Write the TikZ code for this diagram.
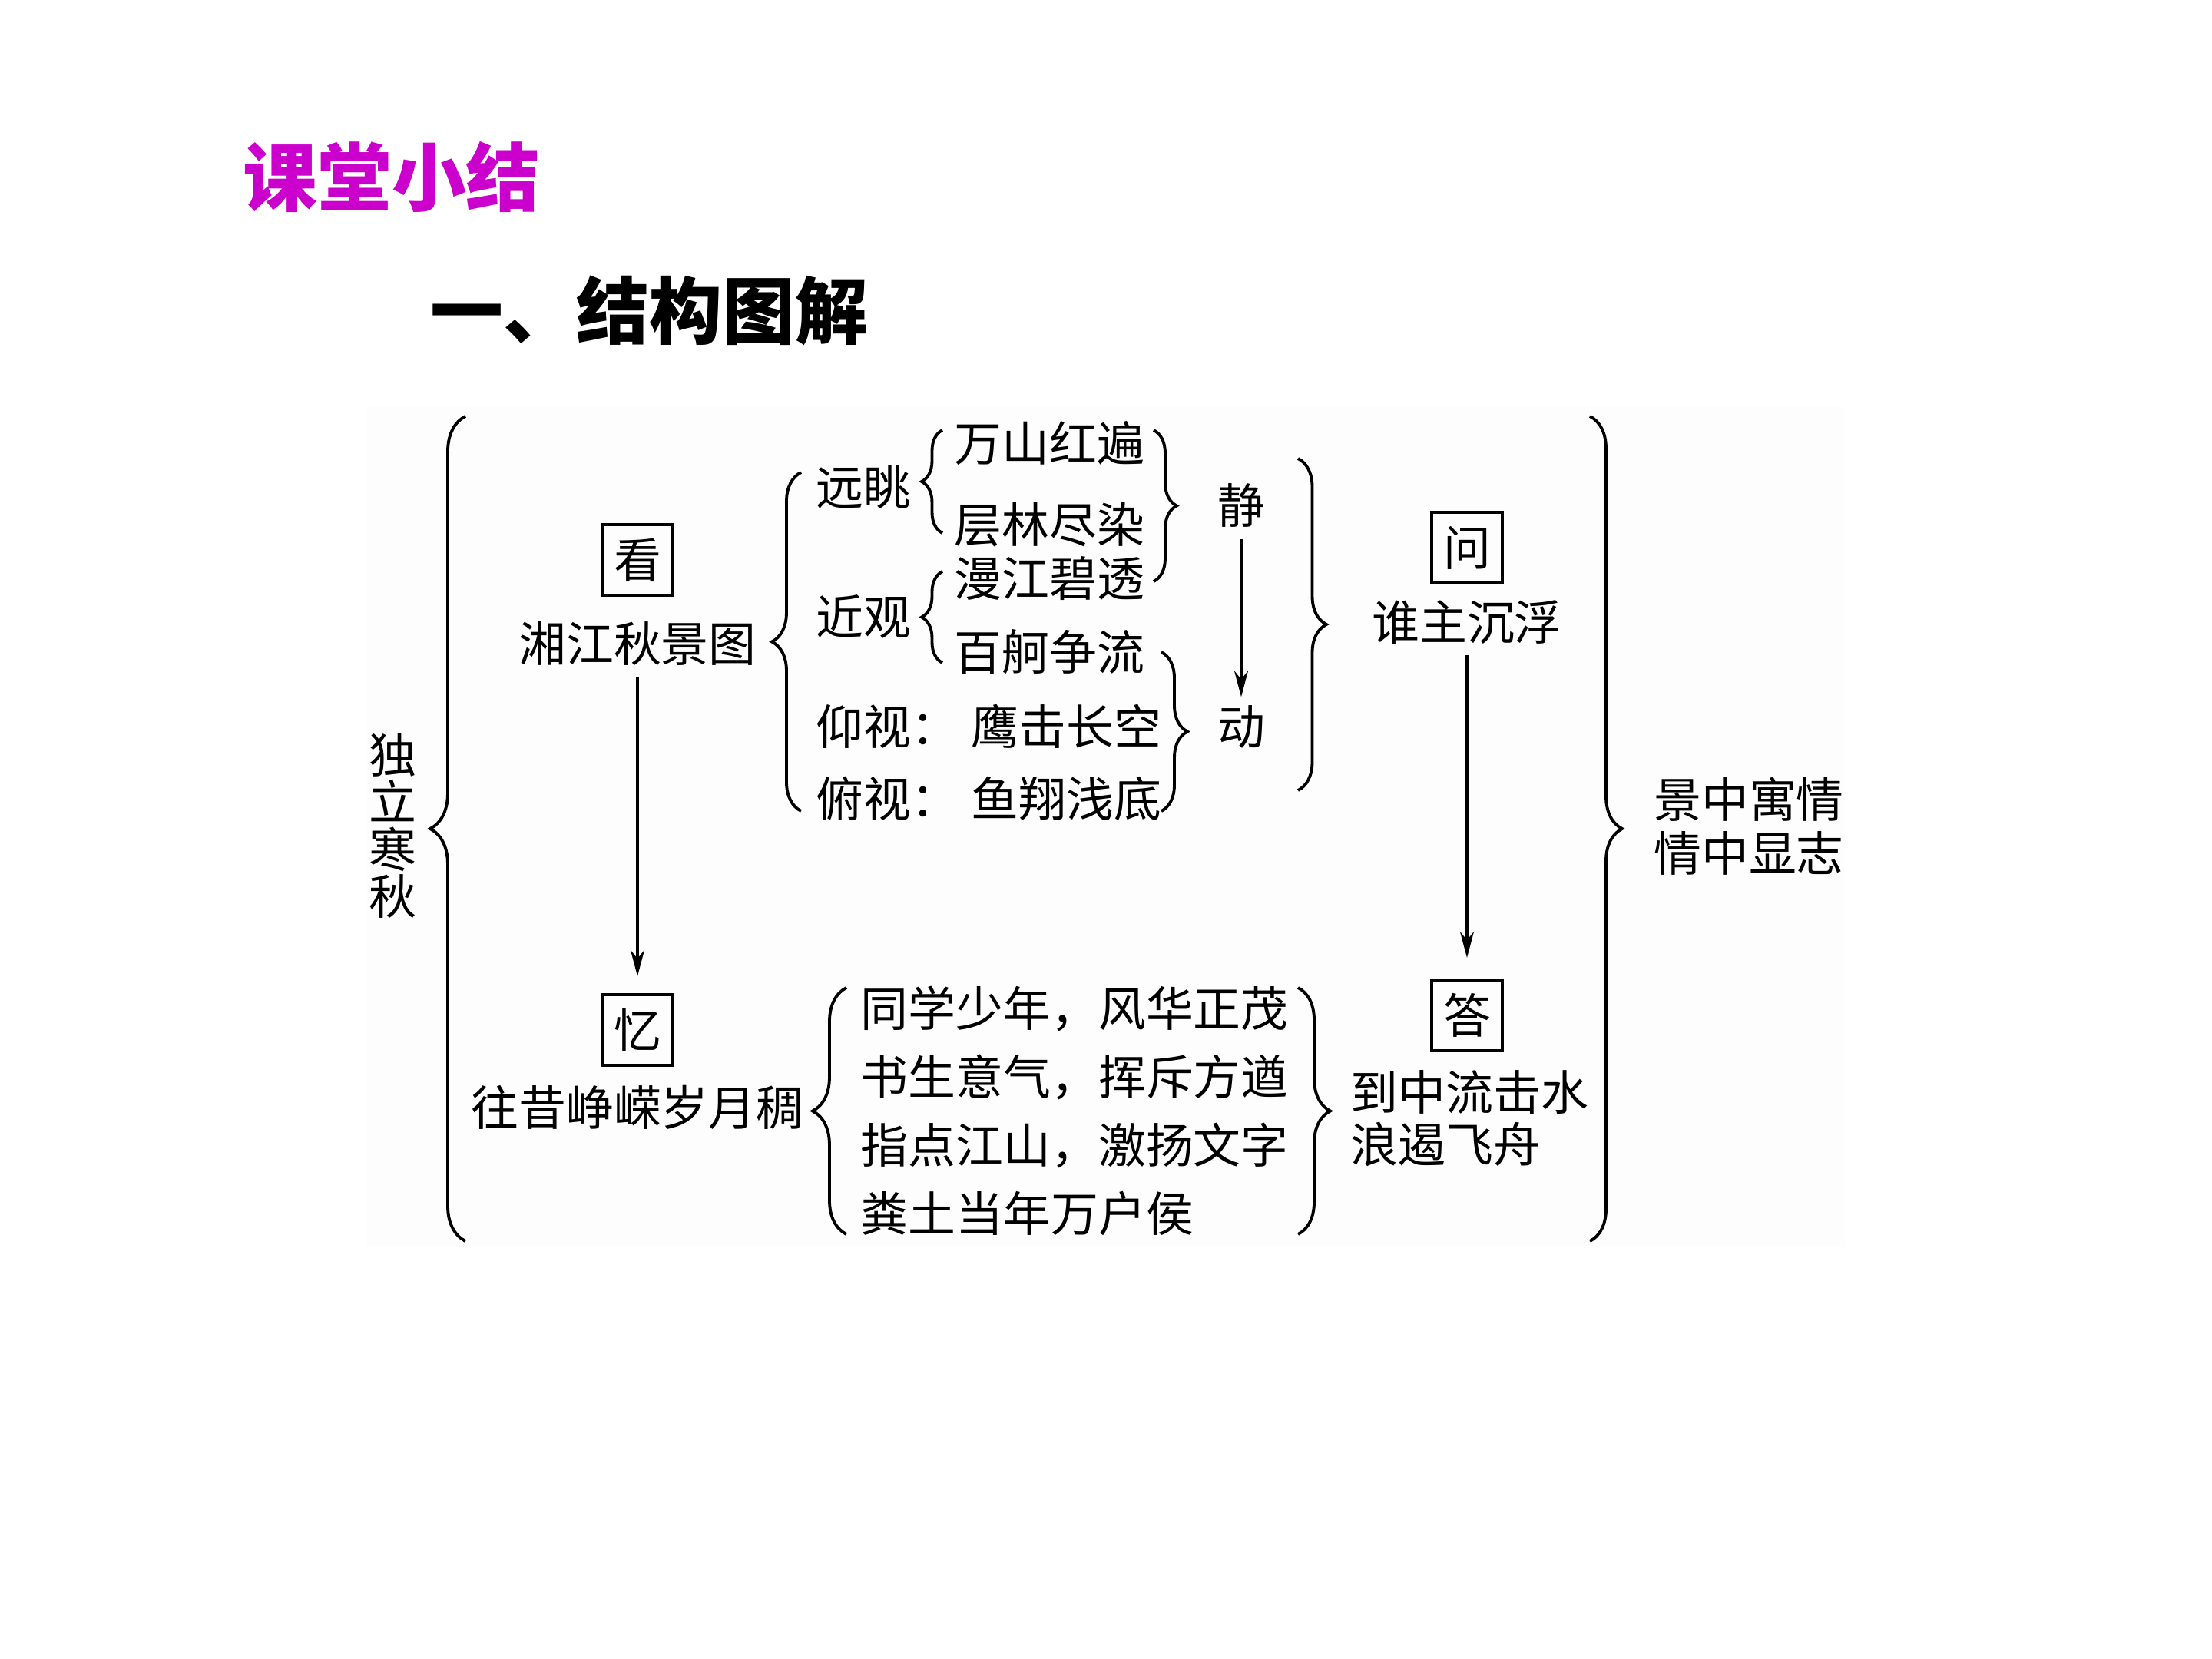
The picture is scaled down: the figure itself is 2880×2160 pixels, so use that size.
\documentclass[tikz,border=0pt]{standalone}
\usepackage{fontspec}
\setmainfont{Noto Sans CJK SC}
\usetikzlibrary{arrows.meta,decorations.pathreplacing}
\definecolor{titlemagenta}{RGB}{204,0,204}

\tikzset{
  txt/.style={inner sep=0pt,font=\fontsize{17.6pt}{17.6pt}\selectfont},
  keybox/.style={draw,line width=1.1pt,minimum size=0.92cm,inner sep=0pt,font=\fontsize{17.6pt}{17.6pt}\selectfont},
  arr/.style={line width=1pt,-{Stealth[length=0.34cm,width=0.18cm]}},
  brc/.style={line width=1.1pt,decorate,decoration={brace,amplitude=#1}},
}

\begin{document}
\begin{tikzpicture}[x=0.01cm,y=-0.01cm]
            \useasboundingbox (0,0) rectangle (2880,2160);
            % faint backdrop of the chart
            \fill [black!0.7] (477,530) rectangle (2402,1623);
            % titles
            \node [anchor=west,inner sep=0pt,text=titlemagenta,font=\fontsize{27.5pt}{27.5pt}\selectfont\bfseries] (title) at (316,230) {课堂小结};
            \node [anchor=west,inner sep=0pt,font=\fontsize{27pt}{27pt}\selectfont\bfseries] (heading) at (560,404) {一、结构图解};
            % outer braces
            \node [txt,align=center,font=\fontsize{17.6pt}{17.4pt}\selectfont] (dulihanqiu) at (511,1075) {独\\立\\寒\\秋};
            \coordinate (bigL-top) at (606,542);
            \coordinate (bigL-bot) at (606,1616);
            \draw [brc=0.46cm] (bigL-bot) -- (bigL-top);
            \coordinate (bigR-top) at (2070,542);
            \coordinate (bigR-bot) at (2070,1616);
            \draw [brc=0.42cm] (bigR-top) -- (bigR-bot);
            \node [txt,align=left,font=\fontsize{17.6pt}{20pt}\selectfont] (jingzhong) at (2277,1076) {景中寓情\\情中显志};
            % kan
            \node [keybox] (kan) at (830,729) {看};
            \node [txt] (xiangjiang) at (830,838) {湘江秋景图};
            \coordinate (kan-top) at (1043,615);
            \coordinate (kan-bot) at (1043,1056);
            \draw [brc=0.38cm] (kan-bot) -- (kan-top);
            % yuantiao / jinguan
            \node [txt] (yuantiao) at (1124,634) {远眺};
            \node [txt] (jinguan) at (1124,803) {近观};
            \coordinate (yt-top) at (1227,560);
            \coordinate (yt-bot) at (1227,694);
            \draw [brc=0.27cm] (yt-bot) -- (yt-top);
            \coordinate (jg-top) at (1227,744);
            \coordinate (jg-bot) at (1227,863);
            \draw [brc=0.27cm] (jg-bot) -- (jg-top);
            \node [txt,anchor=west] (wanshan) at (1242,577) {万山红遍};
            \node [txt,anchor=west] (cenglin) at (1242,683) {层林尽染};
            \node [txt,anchor=west] (manjiang) at (1242,753) {漫江碧透};
            \node [txt,anchor=west] (baige) at (1242,849) {百舸争流};
            % yangshi / fushi
            \node [txt,anchor=west] (yangshi) at (1062,946) {仰视：};
            \node [txt,anchor=west] (yingji) at (1264,946) {鹰击长空};
            \node [txt,anchor=west] (fushi) at (1062,1040) {俯视：};
            \node [txt,anchor=west] (yuxiang) at (1264,1040) {鱼翔浅底};
            % jing / dong
            \coordinate (jing-top) at (1502,560);
            \coordinate (jing-bot) at (1502,757);
            \draw [brc=0.3cm] (jing-top) -- (jing-bot);
            \coordinate (dong-top) at (1512,849);
            \coordinate (dong-bot) at (1512,1056);
            \draw [brc=0.34cm] (dong-top) -- (dong-bot);
            \node [txt] (jing) at (1616,658) {静};
            \node [txt] (dong) at (1616,946) {动};
            \draw [arr,shorten <=0.15cm,shorten >=0.1cm] (jing) -- (dong);
            \coordinate (jd-top) at (1690,597);
            \coordinate (jd-bot) at (1690,1029);
            \draw [brc=0.37cm] (jd-top) -- (jd-bot);
            % wen
            \node [keybox] (wen) at (1910,713) {问};
            \node [txt] (shuizhu) at (1910,810) {谁主沉浮};
            % yi
            \node [keybox] (yi) at (830,1341) {忆};
            \node [txt] (wangxi) at (830,1442) {往昔峥嵘岁月稠};
            \draw [arr,shorten <=0.14cm,shorten >=0.22cm] (xiangjiang) -- (yi);
            \coordinate (yi-top) at (1102,1286);
            \coordinate (yi-bot) at (1102,1607);
            \draw [brc=0.44cm] (yi-bot) -- (yi-top);
            \node [txt,anchor=west,align=left,font=\fontsize{17.6pt}{25.3pt}\selectfont] (tongxue) at (1120,1446) {同学少年，风华正茂\\书生意气，挥斥方遒\\指点江山，激扬文字\\粪土当年万户侯};
            \coordinate (tx-top) at (1690,1286);
            \coordinate (tx-bot) at (1690,1607);
            \draw [brc=0.42cm] (tx-top) -- (tx-bot);
            % da
            \node [keybox] (da) at (1910,1322) {答};
            \node [txt,anchor=west,align=left,font=\fontsize{17.6pt}{19.4pt}\selectfont] (daozhong) at (1758,1456) {到中流击水\\浪遏飞舟};
            \draw [arr,shorten <=0.14cm,shorten >=0.27cm] (shuizhu) -- (da);
\end{tikzpicture}
\end{document}
